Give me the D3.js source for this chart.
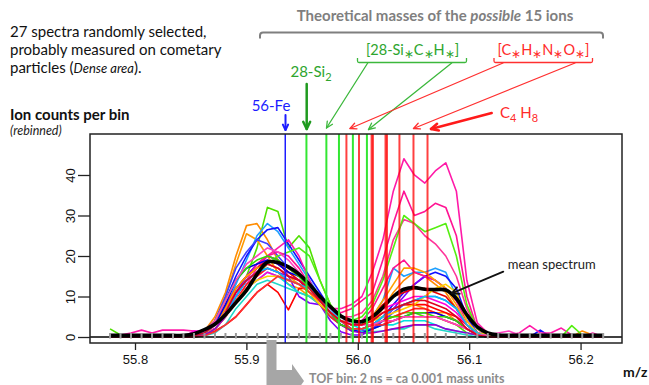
<!DOCTYPE html>
<html>
<head>
<meta charset="utf-8">
<script src="https://cdn.jsdelivr.net/npm/d3@7"></script>
<style>
  body { margin: 0; background: #fff; }
  svg { display: block; font-family: Lato, "Open Sans", sans-serif; }
  .tick text { font-family: "Liberation Sans", Arial, sans-serif; font-size: 13px; fill: #111; }
</style>
</head>
<body>
<svg id="chart" width="649" height="385"></svg>
<script>
// rebinned TOF bins (m/z of each point)
const binMz = [55.7776, 55.7870, 55.7964, 55.8059, 55.8153, 55.8247, 55.8341, 55.8435,
  55.8530, 55.8624, 55.8718, 55.8812, 55.8906, 55.9001, 55.9095, 55.9189,
  55.9283, 55.9377, 55.9472, 55.9566, 55.9660, 55.9754, 55.9848, 55.9943,
  56.0037, 56.0131, 56.0225, 56.0319, 56.0414, 56.0508, 56.0602, 56.0696,
  56.0790, 56.0885, 56.0979, 56.1073, 56.1167, 56.1261, 56.1356, 56.1450,
  56.1544, 56.1638, 56.1732, 56.1827, 56.1921, 56.2015, 56.2109, 56.2203]

// 27 spectra, ion counts per bin
const spectra = [
  [2,0.5,0,0,0,0,0,0, 0.5,1,3,7,12, 15,22,32,31,22,25, 22,14,8,4,3, 3,4,5,5,6,6,5,5,4,3,1,0.5, 0,0,0,0,0,0,0,0,0,0,0,0],
  [0,0,0,0,0,0,0,0.3, 0.5,1.5,5,11,20, 27.5,28,24,19,16,14, 12,9,6,4,3, 3,4,7,11,14,16,15,13,11,7,3,1, 0.5,0,0,0,0,0,0,0,0,1.5,0.5,0],
  [0,0,0,0,0,0,0,0, 0.3,1,4,10,18, 25.5,24,20,16,13,12, 10,8,5,3,2, 2,3,5,7,8,8,7,6,6,4,2,0.5, 0,0,0,0,0,0,0,0,0,0,0,0],
  [0,0,0,0,0,0,0,0, 0.3,1,3,7,13, 19,25,28,26,22,18, 14,10,7,4,3, 3,5,9,17,15,16,16,17,16,10,4,1, 0,0,0,0,0,0,0,0,0,0,0,0],
  [0,0,0,0,0,0,0,0, 0.5,1.5,4,9,15, 20,24,26.5,27,23,19, 15,11,7,4,2, 2,3,5,8,11,13,15,16,15,12,5,1, 0.5,0,0,0,0,1.7,0,0,0,0,0,0],
  [0,0,0,0,0,0,0,0, 0.5,1,4,10,17, 21,24,23,20,17,15, 12,9,6,3,1.5, 1.5,2,4,6,8,9,10,10,9,7,3,0.5, 0,0,0,0,0,0,0,0,0,0,0,0],
  [0.5,0.5,1,1.7,1,1.7,1.7,1.7, 1.5,1,2,5,9, 13,17,20,22,24,20, 14,9,7,7,8, 10,16,24,36,44,40,38,41,43,36,14,3.5, 1,0.5,0.5,1,2.8,1,1,2.2,0.5,0,1,0],
  [0,0,0,0.3,0.3,0,0,0, 0.5,1.5,4,8,12, 15,18,20,19,17,15, 12,9,7,6,7, 9,11,19,28,36,30,31,33,32,25,10,2, 0.5,0,0,0,0,0,0,0,0,0,0,0],
  [0,0,0,0,0,0,0,0, 0.3,1,3,7,11, 14,16,18,17,15,14, 12,9,6,5,5, 6,9,15,24,29,28,25,23,20,15,7,2, 0,0,0,0,0,0,0,0,0,0,0,0],
  [0,0,0,0,0,0,0,0, 0.3,1,2,5,9, 12,15,18,20,21,22, 20,14,8,5,4, 5,8,14,22,30,28,26,27,28,20,8,2, 0.5,0,0,0,0,0,0,0,2.8,0.5,0,0],
  [0,0,0,0,0,0,0,0, 0,0.5,1.5,3,5, 8,11,13,11,6.7,12, 12,9,6,4,3, 3,4,6,7,8,8,8,7,6,5,3,1, 0,0,0,0,0,0,0,0,0,0,0,0],
  [0,0,0,0,0,0,0,0, 0.3,1,3,6,11, 15,18,20,19,15,10, 8.4,8,4,1.3,0.5, 0.5,2,4,7,10,13,15,14,12,9,4,1, 0,0,0,0,0,0,0,0,0,0,0,0],
  [0,0,0,0,0,0,0,0, 0,0.5,2,5,9, 12,14,16,15,13,11, 10,9,7,5,3, 2,2,3,3,4,4,4,3,2,1.5,1,0.5, 0,0,0,0,0,0,0,0,0,0,0,0],
  [0,0,0,0,0,0,0,0, 0,0.3,1,3,7, 10,13,14,13,12,11, 10,8,5,3,2, 1.3,1.3,1.5,2,2,3,3,2,1.5,1,0.5,0, 0,0,0,0,0,0,0,0,0,0,0,0],
  [0,0,0,0,0,0,0,0, 0.3,1,2,5,9, 13,15,17,16,14,13, 11,8,5,3,2, 2,3,4,5,6,7,7,6,5,4,2,0.5, 0,0,0,0,0,0,0,0,0,0,0,0],
  [0,0,0,0,0,0,0,0, 0.5,1,3,7,12, 15,17,19,18,16,14, 11,8,6,4,3, 3,5,8,10,11,12,12,11,10,7,3,1, 0,0,0,0,0,0,0,0,0,0,0,0],
  [0,0,0,0,0,0,0,0, 0.5,1,3,6,10, 14,18,20,21,20,17, 13,9,6,4,3, 4,7,12,17,19,16,15,14,12,9,4,1, 0,0,0,0,0,0,0,0,0,0,0,0],
  [0,0,0,0,0,0,0,0, 1.5,1.5,2,5,9, 12,14,16,15,14,13, 11,9,7,5,4, 4,5,7,8,9,10,10,9,8,6,3,1, 0,0,0,0,0,0,0,0,0,0,0,0],
  [0,0,0,0,0,0,0,0, 0.5,1,3,7,12, 15,17,18,17,15,13, 11,8,6,4,3, 3,5,9,13,17,17,16,14,12,8,3,1, 0,0,0,0,0,0,0,0,0,0,0,0],
  [0,0,0,0,0,0,0,0, 0.3,1,2,5,9, 12,14,15,15,14,13, 11,8,6,4,3, 3,4,5,6,7,8,10,12,13,11,4,1, 0.5,0,0,0,0,0,0,0,0,0,0,0],
  [0,0,0,0,0,0,0,0, 0.3,1,3,8,14, 17,18,19,18,16,15, 13,9,6,3,2, 1,2,3,4,5,6,6,6,5,4,2,0.5, 0,0,0,0,0,0,0,0,0,0,0,0],
  [0,0,0,0,0,0,0,0, 0,0.5,2,5,10, 14,16,17,16,15,14, 12,9,6,3,1.5, 1,1,1.5,2,2.5,3,3,3,2,1.5,1,0.5, 0,0,0,0,0,0,0,0,0,0,0,0],
  [0,0,0,0,0,0,0,0, 0.5,1.5,4,9,14, 17,19,20,19,17,15, 12,9,6,3,2, 2,3,4,5,5,6,6,5,5,4,2,0.5, 0,0,0,0,0,0,0,0,0,0,0,0],
  [0,0,0,0,0,0,0,0, 0.3,1,3,6,10, 14,16,17,16,14,13, 12,10,7,4,2, 2,3,5,7,8,9,10,10,9,7,3,1, 0,0,0,0,0,0,0,0,0,0,0,0],
  [0,0,0,0,0,0,0,0, 0,0.3,1.3,3,5, 8,11,13,15,14,13, 11,9,6,4,2, 2,3,3,4,5,5,5,5,4,3,2,0.5, 0,0,0,0,0,0,0,0,0,0,0,0],
  [0,0,0,0,0,0,0,0, 0.5,1.5,4,9,14, 18,20,22,21,19,16, 13,10,7,5,3, 3,3,4,4,5,5,5,5,4,3,2,0.5, 0.5,1,1.5,0.5,0,0,0,0,0,0,0,0],
  [0,0,0,0,0,0,0,0, 0.3,1,3,6,11, 14,16,18,17,15,14, 12,9,6,4,3, 3,4,6,7,8,9,9,8,7,5,2,0.5, 0,0,0,0,0,0,0,0,0,0,0,0]
]
const spectrumColors = ['#4fe000', '#ff8c00', '#ff9a00', '#1ea0ff', '#1010ff', '#4040ff', '#ff1aa8',
  '#ff1493', '#ff3399', '#55ee11', '#ff0000', '#8000ff', '#00e0e0', '#20d8c8', '#ff2020',
  '#e80000', '#ff1493', '#ff00dd', '#ffa000', '#ffd000', '#0000e0', '#9400d3', '#33dd00',
  '#00bfff', '#ff3030', '#ff40c0', '#dd0022']

const meanSpectrum = [0.4,0.4,0.4,0.4,0.4,0.4,0.4,0.4, 0.8,1.8,3.2,5.5,8.5,
  11.5,15.5,18.5,18.4,17.3,15.5, 13,10,7.5,5.2,4,
  3.8,5,7.3,10,11.8,12.2,11.8,11.7,11.6,9.5,5.5,2.5,
  1,0.5,0.4,0.4,0.4,0.4,0.4,0.4,0.4,0.4,0.4,0.4]

// theoretical masses of the possible 15 ions
const ionMasses = [55.9349, 55.9539, 55.9718, 55.9831, 55.9898, 55.9956, 56.0011, 56.0082,
  56.0124, 56.0136, 56.0249, 56.0262, 56.0374, 56.0500, 56.0626]
const ionGroups = ['Fe', 'Si2', 'SiCH', 'SiCH', 'CHNO', 'SiCH', 'CHNO', 'SiCH',
  'CHNO', 'CHNO', 'CHNO', 'CHNO', 'CHNO', 'CHNO', 'CHNO']

const xTicks = [55.8, 55.9, 56.0, 56.1, 56.2]
const yTicks = [0, 10, 20, 30, 40]

const svg = d3.select('#chart')
const box = {left: 90, right: 622, top: 134, bottom: 343}

const x = d3.scaleLinear().domain([55.7596, 56.2372]).range([box.left, box.right])
const y = d3.scaleLinear().domain([-1.48, 50.12]).range([box.bottom, box.top])

// spectra
const line = d3.line().x((d, i) => x(binMz[i])).y(d => y(d))
svg.append('g').selectAll('path')
  .data(spectra)
  .enter().append('path')
  .attr('d', d => line(d))
  .attr('fill', 'none')
  .attr('stroke', (d, i) => spectrumColors[i])
  .attr('stroke-width', 1.6)
  .attr('stroke-linejoin', 'round')

// mean spectrum
svg.append('path')
  .attr('d', d3.line().x((d, i) => x(binMz[i])).y(d => y(d)).curve(d3.curveCatmullRom)(meanSpectrum))
  .attr('fill', 'none')
  .attr('stroke', '#000')
  .attr('stroke-width', 3.6)
  .attr('stroke-linejoin', 'round')

// zero line
svg.append('line')
  .attr('x1', box.left).attr('x2', box.right)
  .attr('y1', y(0)).attr('y2', y(0))
  .attr('stroke', '#000').attr('stroke-width', 1.5)

// bin marks on the baseline
svg.append('g').selectAll('line')
  .data(binMz)
  .enter().append('line')
  .attr('x1', d => x(d)).attr('x2', d => x(d))
  .attr('y1', y(0) - 4).attr('y2', y(0) + 1.5)
  .attr('stroke', '#9a9a9a').attr('stroke-width', 2)

// ion lines
const ionColor = {Fe: '#1c1cff', Si2: '#33e633', SiCH: '#33e633', CHNO: '#ff0000'}
svg.append('g').selectAll('line')
  .data(ionMasses)
  .enter().append('line')
  .attr('x1', d => x(d)).attr('x2', d => x(d))
  .attr('y1', box.top).attr('y2', box.bottom)
  .attr('stroke', (d, i) => ionColor[ionGroups[i]])
  .attr('stroke-opacity', (d, i) => ionGroups[i] == 'CHNO' ? 0.75 : 1)
  .attr('stroke-width', (d, i) => ionGroups[i] == 'Fe' ? 1.5 : 2)

// box
svg.append('rect')
  .attr('x', box.left).attr('y', box.top)
  .attr('width', box.right - box.left).attr('height', box.bottom - box.top)
  .attr('fill', 'none').attr('stroke', '#222').attr('stroke-width', 1.5)

// axes
const xAxis = svg.append('g')
  .attr('transform', 'translate(0,' + box.bottom + ')')
  .call(d3.axisBottom(x).tickValues(xTicks).tickFormat(d3.format('.1f')).tickSize(7).tickPadding(5))
xAxis.select('.domain').remove()
xAxis.selectAll('line').attr('stroke', '#222').attr('stroke-width', 1.3)

const yAxis = svg.append('g')
  .attr('transform', 'translate(' + box.left + ',0)')
  .call(d3.axisLeft(y).tickValues(yTicks).tickSize(12))
yAxis.select('.domain').remove()
yAxis.selectAll('line').attr('stroke', '#222').attr('stroke-width', 1.3)
yAxis.selectAll('text')
  .attr('x', null).attr('dy', null)
  .attr('transform', 'translate(-19.5,0) rotate(-90)')
  .attr('text-anchor', 'middle')
  .attr('dominant-baseline', 'central')

svg.append('text').attr('x', 623).attr('y', 377)
  .attr('font-size', 14).attr('font-weight', 'bold').attr('fill', '#111')
  .text('m/z')

// arrows
function arrow(x1, y1, x2, y2, color, width, head) {
  const a = Math.atan2(y2 - y1, x2 - x1)
  const sp = 0.45
  const p1 = [x2 - head * Math.cos(a - sp), y2 - head * Math.sin(a - sp)]
  const p2 = [x2 - head * Math.cos(a + sp), y2 - head * Math.sin(a + sp)]
  const g = svg.append('g').attr('stroke', color).attr('stroke-width', width)
    .attr('fill', 'none').attr('stroke-linecap', 'round').attr('stroke-linejoin', 'round')
  g.append('line').attr('x1', x1).attr('y1', y1).attr('x2', x2).attr('y2', y2)
  g.append('path').attr('d', 'M' + p1 + 'L' + x2 + ',' + y2 + 'L' + p2)
}

// top-left note
const note = svg.append('text').attr('font-size', 15).attr('fill', '#111')
note.append('tspan').attr('x', 10).attr('y', 36.5).text('27 spectra randomly selected,')
note.append('tspan').attr('x', 10).attr('y', 55).text('probably measured on cometary')
note.append('tspan').attr('x', 10).attr('y', 73).text('particles (')
note.append('tspan').attr('font-style', 'italic').attr('font-size', 13).text('Dense area')
note.append('tspan').text(').')

svg.append('text').attr('x', 10).attr('y', 120)
  .attr('font-size', 15).attr('font-weight', 'bold').attr('fill', '#111')
  .text('Ion counts per bin')
svg.append('text').attr('x', 10).attr('y', 135)
  .attr('font-size', 12.5).attr('font-style', 'italic').attr('fill', '#222')
  .text('(rebinned)')

// header + bracket
const head = svg.append('text').attr('x', 435).attr('y', 21).attr('text-anchor', 'middle')
  .attr('font-size', 15).attr('font-weight', 'bold').attr('fill', '#7f7f7f')
head.append('tspan').text('Theoretical masses of the ')
head.append('tspan').attr('font-style', 'italic').text('possible')
head.append('tspan').text(' 15 ions')
svg.append('path')
  .attr('d', 'M260,38.5 L260,35.5 Q260,32.5 263,32.5 L600,32.5 Q603,32.5 603,35.5 L603,38.5')
  .attr('fill', 'none').attr('stroke', '#7f7f7f').attr('stroke-width', 2)

// group labels, each element followed by a lowered "*"
function starLabel(cx, cy, lead, elems, tail, color) {
  const t = svg.append('text').attr('x', cx).attr('y', cy).attr('text-anchor', 'middle')
    .attr('font-size', 14.5).attr('fill', color)
  t.append('tspan').text(lead)
  elems.forEach((e, i) => {
    if (i > 0) t.append('tspan').attr('dy', -3).text(e)
    t.append('tspan').attr('dy', 3).attr('font-size', 12).text('\u2217')
  })
  t.append('tspan').attr('dy', -3).text(tail)
}
starLabel(412.5, 54.5, '[28-Si', ['', 'C', 'H'], ']', '#2ea52e')
starLabel(543.5, 54.5, '[C', ['', 'H', 'N', 'O'], ']', '#ff2a2a')

svg.append('path')
  .attr('d', 'M357.5,58 L357.5,61 Q357.5,62.5 359,62.5 L465,62.5 Q466.5,62.5 466.5,61 L466.5,58')
  .attr('fill', 'none').attr('stroke', '#3cb83c').attr('stroke-width', 1.3)
svg.append('path')
  .attr('d', 'M494,58 L494,61 Q494,62.5 495.5,62.5 L591,62.5 Q592.5,62.5 592.5,61 L592.5,58')
  .attr('fill', 'none').attr('stroke', '#ff3030').attr('stroke-width', 1.3)

arrow(367.7, 63, 326.5, 128, '#3cb83c', 1.3, 7)
arrow(451.7, 63, 368.5, 129.5, '#3cb83c', 1.3, 7)
arrow(503, 63, 350, 128.5, '#ff3030', 1.3, 7)
arrow(575, 63, 413.5, 128.5, '#ff3030', 1.3, 7)

// 28-Si2
const si = svg.append('text').attr('x', 311).attr('y', 77).attr('text-anchor', 'middle')
  .attr('font-size', 15).attr('fill', '#2ea52e')
si.append('tspan').text('28-Si')
si.append('tspan').attr('dy', 4).attr('font-size', 11).text('2')
arrow(306.7, 84, 306.7, 129, '#1f9a1f', 2.5, 8)

// 56-Fe
svg.append('text').attr('x', 271).attr('y', 110.5).attr('text-anchor', 'middle')
  .attr('font-size', 15).attr('fill', '#1c1cff').text('56-Fe')
arrow(285.5, 115, 285.5, 130, '#1c1cff', 2, 6)

// C4 H8
const c4 = svg.append('text').attr('x', 519).attr('y', 118).attr('text-anchor', 'middle')
  .attr('font-size', 15).attr('fill', '#ff2a2a')
c4.append('tspan').text('C')
c4.append('tspan').attr('dy', 4).attr('font-size', 11).text('4')
c4.append('tspan').attr('dy', -4).text(' H')
c4.append('tspan').attr('dy', 4).attr('font-size', 11).text('8')
arrow(491.7, 113, 431, 129, '#ff1a1a', 2.5, 8)

// mean spectrum label
svg.append('text').attr('x', 507.7).attr('y', 268.5)
  .attr('font-size', 13).attr('fill', '#222').text('mean spectrum')
arrow(503.3, 271.7, 451.7, 293.3, '#111', 1.8, 8)

// TOF bin note
svg.append('path')
  .attr('d', 'M266.5,340 L276.5,340 L276.5,370 L292,370 L292,364 L304,381 L292,398 L292,392 L266.5,392 Z')
  .attr('fill', '#a6a6a6')
svg.append('text').attr('x', 309).attr('y', 382.5)
  .attr('font-size', 12.5).attr('font-weight', 'bold').attr('fill', '#8c8c8c')
  .text('TOF bin: 2 ns = ca 0.001 mass units')
</script>
</body>
</html>
